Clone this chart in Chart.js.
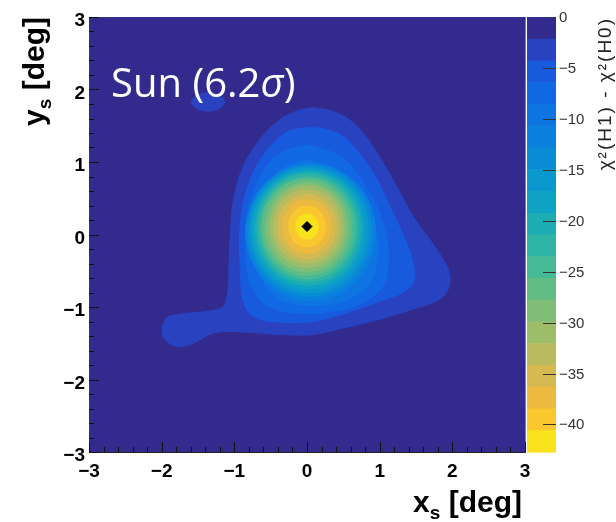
<!DOCTYPE html>
<html>
<head>
<meta charset="utf-8">
<title>Sun shadow significance map</title>
<script src="https://cdn.jsdelivr.net/npm/chart.js@4.4.0/dist/chart.umd.min.js"></script>
<style>
  html, body { margin: 0; padding: 0; background: #fff; }
</style>
</head>
<body>
<canvas id="sunMap" width="616" height="522"></canvas>
<script>
// Axis ticks (deg) and colour-scale ticks
const xTicks = [-3, -2, -1, 0, 1, 2, 3];
const yTicks = [-3, -2, -1, 0, 1, 2, 3];
const zTicks = [0, -5, -10, -15, -20, -25, -30, -35, -40];
const zMin = -42.7;   // bottom of the colour scale
const nLevels = 20;   // number of contour bands

// Best-fit position of the Sun shadow
const peak = [0.0, 0.11];

// Outer contours, [x, y] in deg
const contour1 = [
  [0.08, 1.75], [0.36, 1.70], [0.64, 1.54], [0.87, 1.27], [1.10, 0.90], [1.28, 0.58],
  [1.46, 0.25], [1.69, -0.07], [1.87, -0.34], [1.97, -0.58], [1.92, -0.80], [1.78, -0.92],
  [1.46, -1.03], [1.00, -1.17], [0.55, -1.28], [0.08, -1.38], [-0.37, -1.38], [-0.96, -1.34],
  [-1.29, -1.36], [-1.61, -1.52], [-1.84, -1.53], [-1.99, -1.38], [-1.93, -1.15], [-1.75, -1.10],
  [-1.38, -1.06], [-1.16, -1.00], [-1.09, -0.80], [-1.07, -0.30], [-1.05, 0.10], [-1.01, 0.48],
  [-0.88, 0.94], [-0.65, 1.31], [-0.37, 1.59], [-0.09, 1.72], [0.08, 1.75]
];
const contour1Spot = [
  [-1.36, 1.96], [-1.20, 1.92], [-1.13, 1.83], [-1.20, 1.74], [-1.36, 1.70],
  [-1.52, 1.74], [-1.59, 1.83], [-1.52, 1.92], [-1.36, 1.96]
];
const contour2 = [
  [0.04, 1.48], [0.30, 1.44], [0.55, 1.31], [0.91, 0.85], [1.14, 0.39], [1.35, -0.07],
  [1.46, -0.39], [1.46, -0.66], [1.32, -0.80], [1.00, -0.92], [0.55, -1.08], [0.08, -1.20],
  [-0.37, -1.21], [-0.74, -1.13], [-0.88, -0.90], [-0.92, -0.44], [-0.92, 0.11], [-0.83, 0.62],
  [-0.61, 1.08], [-0.28, 1.41], [0.04, 1.48]
];
const contour3 = [
  [0.03, 1.24], [0.50, 1.05], [0.85, 0.60], [1.05, 0.15], [1.12, -0.30], [1.05, -0.70],
  [0.75, -0.95], [0.30, -1.07], [-0.20, -1.08], [-0.60, -0.95], [-0.80, -0.60], [-0.85, -0.10],
  [-0.80, 0.40], [-0.62, 0.85], [-0.35, 1.13], [0.03, 1.24]
];
const contour4 = [
  [0.02, 1.03], [0.45, 0.88], [0.78, 0.50], [0.95, 0.05], [0.97, -0.35], [0.85, -0.70],
  [0.50, -0.92], [0.05, -0.98], [-0.40, -0.88], [-0.65, -0.55], [-0.73, -0.10], [-0.68, 0.35],
  [-0.50, 0.75], [-0.25, 0.96], [0.02, 1.03]
];

// Contours 5..19 are close to ellipses: centre and half-widths in deg
const ringX  = [0.05, 0.04, 0.03, 0.02, 0.02, 0.01, 0.01, 0.00, 0.00, 0.00, 0.00, 0.00, 0.00, 0.00, 0.00];
const ringY  = [0.03, 0.05, 0.06, 0.07, 0.08, 0.09, 0.09, 0.10, 0.10, 0.11, 0.11, 0.11, 0.11, 0.11, 0.11];
const ringRx = [0.90, 0.86, 0.82, 0.78, 0.74, 0.70, 0.66, 0.62, 0.57, 0.52, 0.47, 0.41, 0.34, 0.26, 0.16];
const ringRy = [0.95, 0.91, 0.87, 0.83, 0.79, 0.75, 0.71, 0.67, 0.62, 0.57, 0.51, 0.45, 0.38, 0.29, 0.18];

// band colours, from 0 (top of the scale) down to the minimum
const bandColors = [
    'rgb(50,42,140)',  'rgb(40,66,192)',  'rgb(24,90,222)',  'rgb(16,104,228)',
    'rgb(14,116,226)', 'rgb(10,128,222)', 'rgb(8,140,214)',  'rgb(10,152,206)',
    'rgb(14,162,196)', 'rgb(28,172,180)', 'rgb(46,180,164)', 'rgb(70,186,148)',
    'rgb(98,189,133)', 'rgb(128,190,120)', 'rgb(158,189,106)', 'rgb(186,187,94)',
    'rgb(212,186,80)', 'rgb(236,186,62)', 'rgb(250,200,46)', 'rgb(248,226,28)'
];

const minus = v => v < 0 ? '\u2212' + Math.abs(v) : String(v);

function contourSet(points, level) {
    return {
        data: points.map(p => ({ x: p[0], y: p[1] })),
        showLine: true,
        fill: 'shape',
        tension: 0.35,
        backgroundColor: bandColors[level],
        borderColor: bandColors[level],
        borderWidth: 1,
        pointRadius: 0
    };
}

// index 0 is drawn last (on top)
const datasets = [
    {
        data: [{ x: peak[0], y: peak[1] }],
        pointStyle: 'rectRot',
        pointRadius: 5,
        backgroundColor: '#000',
        borderColor: '#000',
        fill: false
    },
    contourSet(contour4, 4),
    contourSet(contour3, 3),
    contourSet(contour2, 2),
    contourSet(contour1Spot, 1),
    contourSet(contour1, 1)
];

// draw a text made of pieces: [text, font, dy]
function drawPieces(ctx, pieces, x, y, align) {
    let total = 0;
    pieces.forEach(p => { ctx.font = p[1]; total += ctx.measureText(p[0]).width; });
    let cx = align === 'right' ? x - total : x;
    ctx.textAlign = 'left';
    pieces.forEach(p => {
        ctx.font = p[1];
        ctx.fillText(p[0], cx, y + (p[2] || 0));
        cx += ctx.measureText(p[0]).width;
    });
}

const mapPlugin = {
    id: 'sunMap',
    beforeDatasetsDraw(chart) {
        // lowest band fills the whole frame
        const ctx = chart.ctx, a = chart.chartArea;
        ctx.save();
        ctx.fillStyle = bandColors[0];
        ctx.fillRect(a.left, a.top, a.right - a.left, a.bottom - a.top);
        ctx.restore();
    },
    afterDatasetDraw(chart, args) {
        if (args.index !== 1) return;
        // inner elliptical contours, on top of contour 4
        const ctx = chart.ctx, a = chart.chartArea;
        const xs = chart.scales.x, ys = chart.scales.y;
        ctx.save();
        ctx.beginPath();
        ctx.rect(a.left, a.top, a.right - a.left, a.bottom - a.top);
        ctx.clip();
        for (let i = 0; i < ringX.length; i++) {
            const cx = xs.getPixelForValue(ringX[i]);
            const cy = ys.getPixelForValue(ringY[i]);
            const rx = Math.abs(xs.getPixelForValue(ringX[i] + ringRx[i]) - cx);
            const ry = Math.abs(ys.getPixelForValue(ringY[i] + ringRy[i]) - cy);
            ctx.fillStyle = bandColors[5 + i];
            ctx.beginPath();
            ctx.ellipse(cx, cy, rx, ry, 0, 0, Math.PI * 2);
            ctx.fill();
        }
        ctx.restore();
    },
    afterDraw(chart) {
        const ctx = chart.ctx, a = chart.chartArea;
        const xs = chart.scales.x, ys = chart.scales.y;
        ctx.save();

        // small ticks inside the frame
        ctx.strokeStyle = '#111';
        ctx.lineWidth = 1;
        for (let i = -15; i <= 15; i++) {
            const v = i / 5;
            const len = i % 5 === 0 ? 10 : 5;
            const py = Math.round(ys.getPixelForValue(v)) + 0.5;
            const px = Math.round(xs.getPixelForValue(v)) + 0.5;
            ctx.beginPath();
            ctx.moveTo(a.left, py); ctx.lineTo(a.left + len, py);
            ctx.moveTo(px, a.bottom); ctx.lineTo(px, a.bottom - len);
            ctx.stroke();
        }

        // colour scale
        const x0 = a.right + 2, x1 = a.right + 31;
        const band = (a.bottom - a.top) / nLevels;
        for (let i = 0; i < nLevels; i++) {
            ctx.fillStyle = bandColors[i];
            ctx.fillRect(x0, a.top + i * band, x1 - x0, band + 0.6);
        }
        ctx.strokeStyle = '#333';
        ctx.fillStyle = '#333';
        ctx.font = '15px "Liberation Sans", Arial, sans-serif';
        ctx.textBaseline = 'middle';
        ctx.textAlign = 'left';
        zTicks.forEach(v => {
            const py = Math.round(a.top + (v / zMin) * (a.bottom - a.top)) + 0.5;
            if (v !== 0) {
                ctx.beginPath();
                ctx.moveTo(x1 - 13, py); ctx.lineTo(x1, py);
                ctx.stroke();
            }
            ctx.fillText(minus(v), x1 + 3, py);
        });

        // colour scale title
        ctx.save();
        ctx.translate(611, a.top);
        ctx.rotate(-Math.PI / 2);
        ctx.textBaseline = 'alphabetic';
        ctx.fillStyle = '#222';
        ctx.textAlign = 'right';
        ctx.font = '19px "Liberation Sans", Arial, sans-serif';
        ctx.letterSpacing = '2px';
        ctx.fillText('\u03C7\u00B2(H1) - \u03C7\u00B2(H0)', 0, 0);
        ctx.letterSpacing = '0px';
        ctx.restore();

        // axis titles
        ctx.fillStyle = '#000';
        ctx.textBaseline = 'alphabetic';
        const big = 'bold 30px "Liberation Sans", Arial, sans-serif';
        const sub = 'bold 19px "Liberation Sans", Arial, sans-serif';
        drawPieces(ctx, [['x', big], ['s', sub, 7], [' [deg]', big]], 522, 512, 'right');
        ctx.save();
        ctx.translate(44, a.top);
        ctx.rotate(-Math.PI / 2);
        drawPieces(ctx, [['y', big], ['s', sub, 7], [' [deg]', big]], 0, 0, 'right');
        ctx.restore();

        // label
        ctx.fillStyle = '#fff';
        const lab = '40px "Open Sans", sans-serif';
        drawPieces(ctx, [['Sun (6.2', lab], ['\u03C3', 'italic ' + lab], [')', lab]], 111, 97, 'left');

        ctx.restore();
    }
};

const tickFont = { family: '"Liberation Sans", Arial, sans-serif', weight: 'bold', size: 19 };

new Chart(document.getElementById('sunMap'), {
    type: 'scatter',
    data: { datasets: datasets },
    options: {
        responsive: false,
        animation: false,
        layout: { padding: { left: 0, top: 17, right: 91, bottom: 0 } },
        plugins: {
            legend: { display: false },
            tooltip: { enabled: false }
        },
        scales: {
            x: {
                type: 'linear',
                min: -3,
                max: 3,
                z: 1,
                afterBuildTicks: s => { s.ticks = xTicks.map(v => ({ value: v })); },
                afterFit: s => { s.height = 70; },
                ticks: { color: '#000', font: tickFont, padding: 8, maxRotation: 0, autoSkip: false, callback: minus },
                grid: { color: 'rgba(0,0,20,0.5)', lineWidth: 1, drawTicks: false },
                border: { display: true, color: '#222' }
            },
            y: {
                type: 'linear',
                min: -3,
                max: 3,
                z: 1,
                afterBuildTicks: s => { s.ticks = yTicks.map(v => ({ value: v })); },
                afterFit: s => { s.width = 89; },
                ticks: { color: '#000', font: tickFont, padding: 4, labelOffset: 4, autoSkip: false, callback: minus },
                grid: { color: 'rgba(0,0,20,0.5)', lineWidth: 1, drawTicks: false },
                border: { display: true, color: '#222' }
            }
        }
    },
    plugins: [mapPlugin]
});
</script>
</body>
</html>
